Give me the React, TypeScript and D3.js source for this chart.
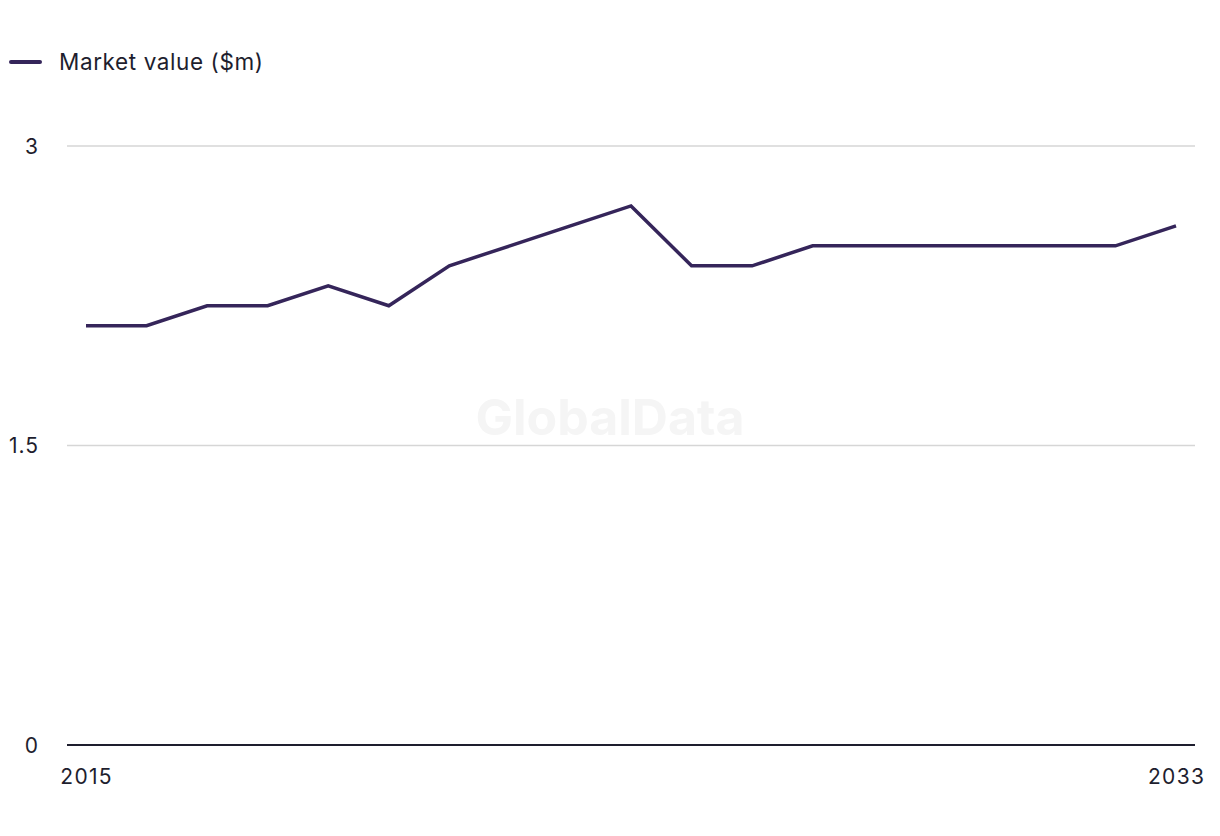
import React from "react";
import * as d3 from "d3";

const years = [2015, 2016, 2017, 2018, 2019, 2020, 2021, 2022, 2023, 2024, 2025, 2026, 2027, 2028, 2029, 2030, 2031, 2032, 2033];
const marketValue = [2.1, 2.1, 2.2, 2.2, 2.3, 2.2, 2.4, 2.5, 2.6, 2.7, 2.4, 2.4, 2.5, 2.5, 2.5, 2.5, 2.5, 2.5, 2.6];
const yTicks = [0, 1.5, 3];
const xTickLabels = [2015, 2033];
const seriesName = "Market value ($m)";

const W = 1220;
const H = 836;
const LINE_COLOR = "#35255a";
const TEXT_COLOR = "#1e1e2e";
const FONT = "'Inter', 'Liberation Sans', sans-serif";

export default function App() {
  const x = d3.scaleLinear().domain([2015, 2033]).range([86, 1176]);
  const y = d3.scaleLinear().domain([0, 3]).range([745, 146]);
  const line = d3
    .line<number>()
    .x((_, i) => x(years[i]))
    .y((d) => y(d));
  const path = line(marketValue) || "";

  return (
    <svg
      width={W}
      height={H}
      style={{ position: "absolute", left: 0, top: 0, background: "#fff" }}
      fontFamily={FONT}
    >
      {/* legend */}
      <line x1={11} x2={40} y1={62} y2={62} stroke={LINE_COLOR} strokeWidth={4} strokeLinecap="round" />
      <text x={59} y={69.5} fontSize={22.5} letterSpacing={0.6} fill={TEXT_COLOR}>
        {seriesName}
      </text>

      {/* gridlines */}
      {yTicks.map((t) =>
        t === 0 ? null : (
          <line key={t} x1={67} x2={1195} y1={y(t)} y2={y(t)} stroke="#d6d6d6" strokeWidth={1.5} />
        )
      )}
      {yTicks.map((t) => (
        <text key={"l" + t} x={39} y={y(t) + 7.5} fontSize={21} letterSpacing={1} fill={TEXT_COLOR} textAnchor="end">
          {t}
        </text>
      ))}

      {/* watermark */}
      <text
        x={610}
        y={435}
        fontSize={50}
        fontWeight={700}
        fill="#f5f5f5"
        textAnchor="middle"
        fontFamily="'Inter', 'Liberation Sans', sans-serif"
      >
        GlobalData
      </text>

      {/* axis */}
      <line x1={67} x2={1195} y1={y(0)} y2={y(0)} stroke={TEXT_COLOR} strokeWidth={2} />
      {xTickLabels.map((t) => (
        <text key={t} x={x(t) + 0.6} y={784} fontSize={21} letterSpacing={1.3} fill={TEXT_COLOR} textAnchor="middle">
          {t}
        </text>
      ))}

      {/* series */}
      <path d={path} fill="none" stroke={LINE_COLOR} strokeWidth={3.5} strokeLinejoin="miter" />
    </svg>
  );
}
